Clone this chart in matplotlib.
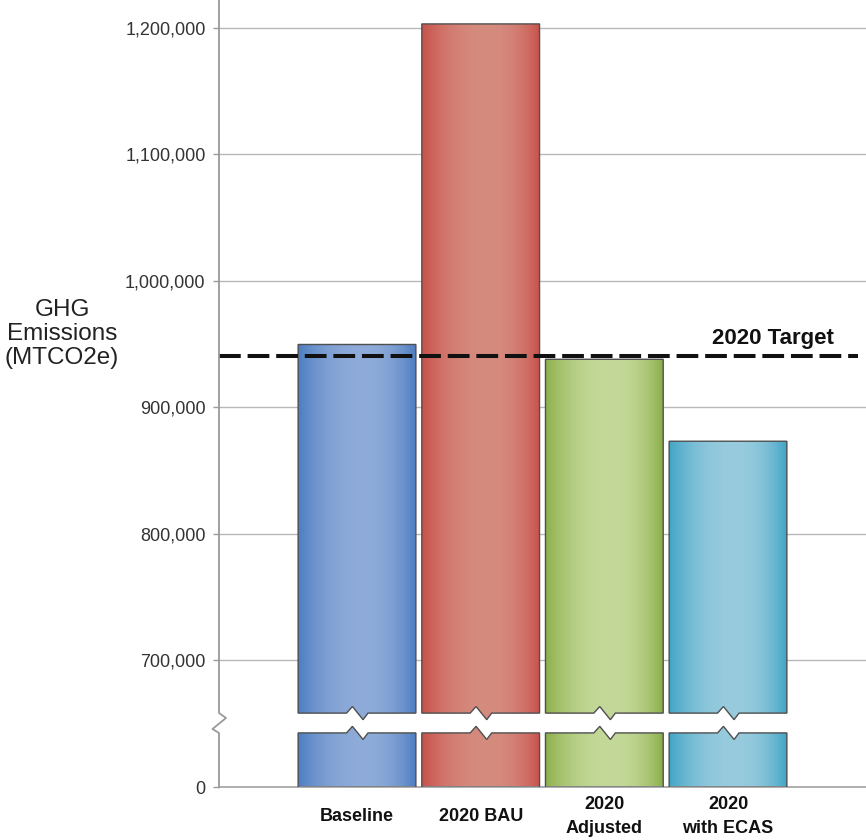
import numpy as np
import matplotlib
matplotlib.use("Agg")
import matplotlib.pyplot as plt
from matplotlib.patches import Polygon
from matplotlib.lines import Line2D
from matplotlib.ticker import FuncFormatter
from matplotlib.colors import to_rgb

# ---- data -------------------------------------------------------------
categories = ["Baseline", "2020 BAU", "2020\nAdjusted", "2020\nwith ECAS"]
emissions = [949500, 1203000, 937800, 873000]          # MTCO2e
target_2020 = 940000
upper_ticks = [700000, 800000, 900000, 1000000, 1100000, 1200000]
lower_ticks = [0]
edge_colors = ["#4d7dc1", "#c8524b", "#8caf4a", "#40a5c6"]
center_colors = ["#8eabd9", "#d68b7f", "#c4d999", "#98cbde"]

plt.rcParams['font.family'] = ['Liberation Sans', 'DejaVu Sans']

# ---- layout (pixels) --------------------------------------------------
W, H, DPI = 866, 840, 100
AX_L, AX_R = 218.5, 866.0
PX_PER_UNIT = 1.2646e-3          # vertical pixels per MTCO2e
Y700_PX = 660.0                  # pixel row of the 700,000 gridline
UP_TOP_PX, SPLIT_PX, ZERO_PX = 0.0, 724.0, 787.3
UNIT_PX = 123.67                 # horizontal pixels per category
FIRST_CENTER_PX = 357.0

up_ymin = 700000 - (SPLIT_PX - Y700_PX) / PX_PER_UNIT
up_ymax = 700000 + (Y700_PX - UP_TOP_PX) / PX_PER_UNIT
lo_ymax = (ZERO_PX - SPLIT_PX) / PX_PER_UNIT
x_lo = -(FIRST_CENTER_PX - AX_L) / UNIT_PX
x_hi = x_lo + (AX_R - AX_L) / UNIT_PX

BREAK_HI = 658000     # bottom of the upper bar segments
BREAK_LO = 43000      # top of the lower bar segments
NOTCH = 5200          # height of the zigzag notch
BAR_W = 0.952
NOTCH_X = (-0.085, -0.037, 0.049, 0.089)


def fig_rect(left, top, right, bottom):
    return [left / W, 1 - bottom / H, (right - left) / W, (bottom - top) / H]


fig = plt.figure(figsize=(W / DPI, H / DPI), dpi=DPI)
ax_up = fig.add_axes(fig_rect(AX_L, UP_TOP_PX, AX_R, SPLIT_PX))
ax_lo = fig.add_axes(fig_rect(AX_L, SPLIT_PX, AX_R, ZERO_PX))
for a in (ax_up, ax_lo):
    a.patch.set_alpha(0)
    for s in a.spines.values():
        s.set_visible(False)


def gradient(edge, center, n=256):
    u = np.linspace(0, 1, n)
    c0 = 0.56
    d = np.where(u < c0, (c0 - u) / c0, (u - c0) / (1 - c0))
    t = 1 - d ** 2.2
    e, c = np.array(to_rgb(edge)), np.array(to_rgb(center))
    row = e[None, :] + (c - e)[None, :] * t[:, None]
    return np.repeat(row[None, :, :], 2, axis=0)


def shaded_bar(ax, verts, x0, x1, y0, y1, img):
    poly = Polygon(verts, closed=True, facecolor="none",
                   edgecolor="#4f4f4f", lw=1.0, zorder=3)
    ax.add_patch(poly)
    im = ax.imshow(img, extent=(x0, x1, y0, y1), aspect="auto",
                   interpolation="bilinear", origin="lower", zorder=2)
    im.set_clip_path(poly)


for i, (v, ec, cc) in enumerate(zip(emissions, edge_colors, center_colors)):
    xl, xr = i - BAR_W / 2, i + BAR_W / 2
    n0, n1, n2, n3 = (i + dx for dx in NOTCH_X)
    img = gradient(ec, cc)
    up = [(xl, BREAK_HI), (n0, BREAK_HI), (n1, BREAK_HI + NOTCH),
          (n2, BREAK_HI - NOTCH), (n3, BREAK_HI), (xr, BREAK_HI),
          (xr, v), (xl, v)]
    shaded_bar(ax_up, up, xl, xr, BREAK_HI - NOTCH, v, img)
    lo = [(xl, 0), (xr, 0), (xr, BREAK_LO), (n3, BREAK_LO),
          (n2, BREAK_LO - NOTCH), (n1, BREAK_LO + NOTCH), (n0, BREAK_LO),
          (xl, BREAK_LO)]
    shaded_bar(ax_lo, lo, xl, xr, 0, BREAK_LO + NOTCH, img)

# target line and label
ax_up.axhline(target_2020, xmin=0, xmax=(858 - AX_L) / (AX_R - AX_L),
              color="#111111", lw=2.9, ls=(0, (5.4, 1.7)), zorder=6)
ax_up.annotate("2020 Target", xy=(x_lo + (773 - AX_L) / UNIT_PX, target_2020),
               xytext=(0, 8.8), textcoords="offset points",
               ha="center", va="baseline", fontsize=16,
               fontweight="bold", color="#111111", zorder=7)

fmt = FuncFormatter(lambda v, p: f"{v:,.0f}")
for a, ticks, (y0, y1) in ((ax_up, upper_ticks, (up_ymin, up_ymax)),
                           (ax_lo, lower_ticks, (0, lo_ymax))):
    a.set_xlim(x_lo, x_hi)
    a.set_ylim(y0, y1)
    a.set_yticks(ticks)
    a.yaxis.set_major_formatter(fmt)
    a.tick_params(axis="y", length=4.3, width=1.0, color="#9a9a9a",
                  pad=5, labelsize=13, labelcolor="#333333")

ax_up.set_xticks([])
ax_up.yaxis.grid(True, color="#b8b8b8", lw=1.0)
ax_up.set_axisbelow(True)

ax_lo.spines["bottom"].set_visible(True)
ax_lo.spines["bottom"].set_color("#a8a8a8")
ax_lo.spines["bottom"].set_linewidth(1.3)
ax_lo.set_xticks(range(len(categories)), categories, va="center",
                 ha="center", fontsize=13, fontweight="bold",
                 color="#111111", linespacing=1.55)
ax_lo.tick_params(axis="x", length=0, pad=21)

# broken left axis line
sx = np.array([219, 219, 226, 212.5, 219, 219])
sy = np.array([0, 713, 718, 729, 733, ZERO_PX])
fig.add_artist(Line2D(sx / W, 1 - sy / H, color="#9a9a9a", lw=1.3))

fig.text(62 / W, 1 - 334 / H, "GHG\nEmissions\n(MTCO2e)", ha="center",
         va="center", fontsize=17.5, color="#222222", linespacing=1.1)

fig.savefig("out.png", dpi=DPI)
